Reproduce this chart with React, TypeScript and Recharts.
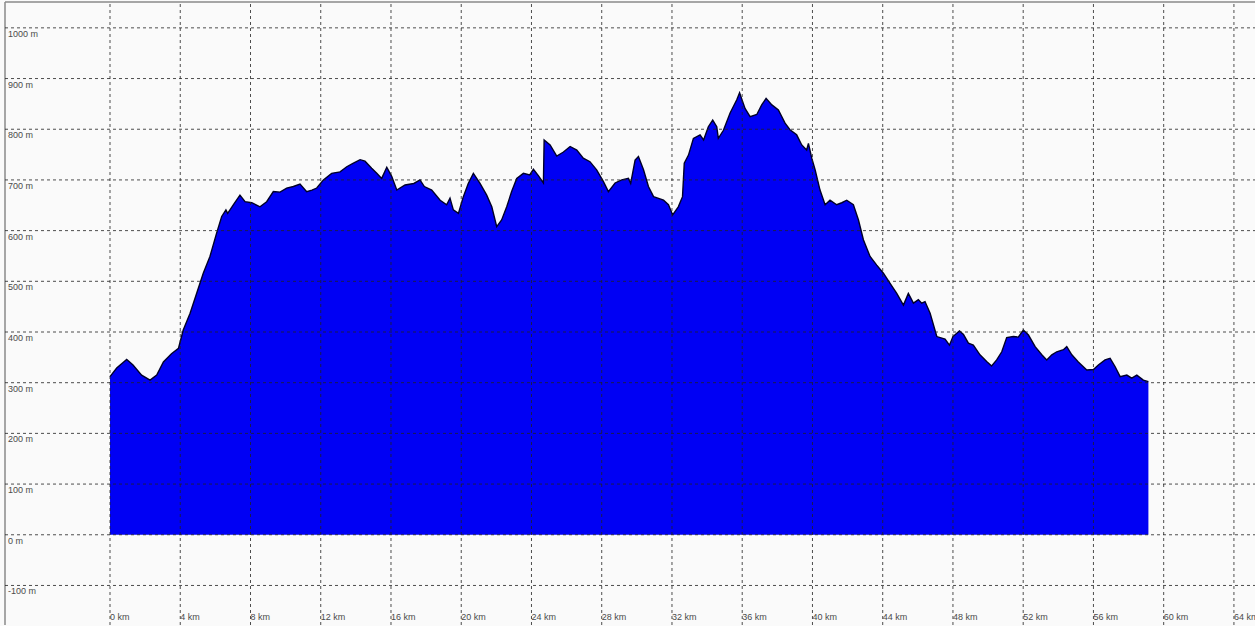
import { Area, AreaChart, ReferenceLine, XAxis, YAxis } from "recharts";

// elevation profile, distance in km / elevation in m
const distanceKm = [
  0, 0.38, 0.95, 1.31, 1.8, 2.28, 2.66, 3.04, 3.5, 3.9, 4.17, 4.56, 4.94, 5.31, 5.69,
  6.07, 6.36, 6.6, 6.7, 7.02, 7.4, 7.69, 8.07, 8.54, 8.92, 9.3, 9.68, 10.06, 10.44,
  10.82, 11.2, 11.5, 11.77, 12.15, 12.62, 13.1, 13.48, 13.86, 14.24, 14.52, 14.9,
  15.19, 15.47, 15.76, 16.04, 16.33, 16.8, 17.3, 17.65, 17.9, 18.32, 18.8, 19.17,
  19.36, 19.55, 19.84, 20.12, 20.4, 20.69, 21.07, 21.45, 21.74, 22.02, 22.3, 22.59,
  22.87, 23.16, 23.54, 23.9, 24.11, 24.4, 24.68, 24.72, 25.06, 25.44, 25.82, 26.2,
  26.58, 26.95, 27.33, 27.71, 28.09, 28.38, 28.76, 29.14, 29.52, 29.65, 29.9, 30.09,
  30.38, 30.66, 30.95, 31.52, 31.8, 32.04, 32.36, 32.6, 32.7, 32.94, 33.22, 33.6,
  33.8, 34.07, 34.32, 34.55, 34.64, 34.93, 35.31, 35.69, 35.85, 36.16, 36.45, 36.83,
  37.11, 37.36, 37.69, 38.06, 38.44, 38.72, 39.1, 39.39, 39.67, 39.77, 39.96, 40.15,
  40.43, 40.72, 41.0, 41.38, 41.67, 41.95, 42.33, 42.62, 42.9, 43.28, 43.66, 44.04,
  44.42, 44.8, 45.18, 45.46, 45.75, 46.03, 46.22, 46.41, 46.7, 47.08, 47.55, 47.8,
  48.0, 48.37, 48.6, 48.88, 49.16, 49.54, 49.92, 50.2, 50.49, 50.78, 51.06, 51.44,
  51.72, 52.01, 52.3, 52.68, 53.06, 53.34, 53.63, 53.91, 54.29, 54.48, 54.77, 55.14,
  55.62, 56.0, 56.28, 56.66, 56.95, 57.23, 57.52, 57.9, 58.18, 58.47, 58.84, 59.13,
];
const elevationM = [
  312, 329, 346, 335, 315, 305, 315, 341, 357, 368, 404, 437, 477, 516, 549,
  595, 628, 641, 634, 651, 670, 657, 655, 647, 657, 677, 676, 684, 687,
  692, 677, 680, 684, 700, 713, 716, 726, 733, 740, 737, 723,
  713, 703, 725, 707, 680, 690, 693, 700, 687, 680, 660, 651,
  664, 641, 634, 667, 693, 713, 693, 670, 647, 608, 621, 647,
  677, 703, 713, 710, 721, 708, 694, 779, 769, 747, 755, 766,
  759, 743, 736, 720, 697, 677, 694, 700, 703, 693, 739, 746,
  720, 687, 667, 660, 651, 631, 647, 667, 733, 749, 782, 789,
  779, 805, 818, 805, 782, 798, 832, 858, 872, 841, 825, 829,
  848, 861, 848, 838, 812, 799, 789, 769, 759, 772, 743, 720,
  680, 651, 660, 651, 655, 660, 651, 621, 582, 549, 532, 516,
  496, 476, 453, 476, 457, 464, 457, 460, 437, 391, 386, 374,
  391, 402, 395, 378, 374, 355, 342, 333, 345, 361, 389, 391,
  390, 404, 394, 371, 355, 345, 355, 361, 365, 371, 355, 341,
  325, 326, 335, 345, 348, 332, 312, 315, 309, 315, 305, 302,
];

const kmTicks = [0, 4, 8, 12, 16, 20, 24, 28, 32, 36, 40, 44, 48, 52, 56, 60, 64];
const mTicks = [-100, 0, 100, 200, 300, 400, 500, 600, 700, 800, 900, 1000];

const data = distanceKm.map((km, i) => ({ km, elevation: elevationM[i] }));

const xDomain = [-5.98, 65.2];
const yDomain = [-178, 1051];

const labelFont = { fontFamily: "'Liberation Sans', Arial, sans-serif", fontSize: 9, fill: "#4a4a4a" };
const gridLine = { stroke: "#222", strokeOpacity: 0.8, strokeDasharray: "3 3", strokeWidth: 1 };

function KmTick({ x, y, payload }: any) {
  return (
    <text x={x} y={y - 8} dominantBaseline="central" textAnchor="start" {...labelFont}>
      {`${payload.value} km`}
    </text>
  );
}

function MTick({ x, y, payload }: any) {
  return (
    <text x={x + 3} y={y + 6} dominantBaseline="central" textAnchor="start" {...labelFont}>
      {`${payload.value} m`}
    </text>
  );
}

export default function App() {
  return (
    <div
      style={{
        position: "absolute",
        left: 0,
        top: 0,
        width: 1255,
        height: 626,
        background: "#fafafa",
        overflow: "hidden",
      }}
    >
      <AreaChart
        width={1255}
        height={626}
        data={data}
        margin={{ top: 1, right: 0, left: 4, bottom: 0 }}
      >
        <XAxis
          dataKey="km"
          type="number"
          domain={xDomain}
          allowDataOverflow
          ticks={kmTicks}
          interval={0}
          height={1}
          tickSize={0}
          tickMargin={0}
          tickLine={false}
          axisLine={false}
          tick={<KmTick />}
        />
        <XAxis
          xAxisId="top"
          orientation="top"
          dataKey="km"
          type="number"
          domain={xDomain}
          allowDataOverflow
          height={1}
          tick={false}
          tickLine={false}
          axisLine={{ stroke: "#8a8a8a", strokeWidth: 1.5 }}
        />
        <YAxis
          type="number"
          domain={yDomain}
          allowDataOverflow
          ticks={mTicks}
          interval={0}
          width={1}
          tickSize={0}
          tickMargin={0}
          tickLine={false}
          axisLine={{ stroke: "#8a8a8a", strokeWidth: 1.5 }}
          tick={<MTick />}
        />
        <Area
          type="linear"
          dataKey="elevation"
          stroke="#000028"
          strokeWidth={1.4}
          fill="#0000f4"
          fillOpacity={1}
          dot={false}
          activeDot={false}
          isAnimationActive={false}
        />
        {kmTicks.map((km) => (
          <ReferenceLine key={`vx${km}`} x={km} zIndex={600} {...gridLine} />
        ))}
        {mTicks.map((m) => (
          <ReferenceLine key={`hy${m}`} y={m} zIndex={600} {...gridLine} />
        ))}
      </AreaChart>
    </div>
  );
}
